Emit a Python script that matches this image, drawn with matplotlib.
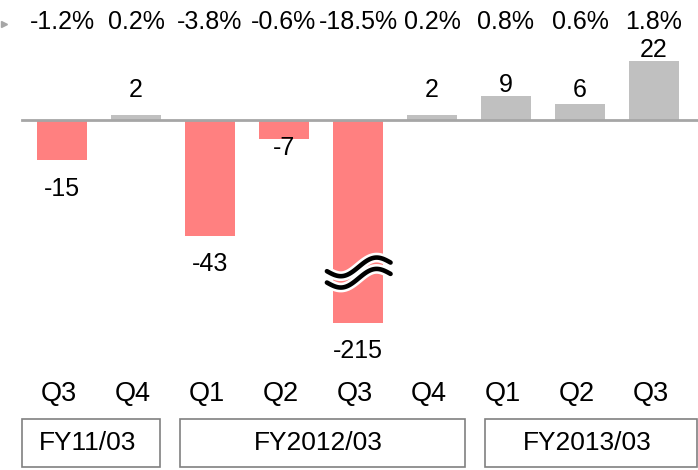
import numpy as np
import matplotlib.pyplot as plt
import matplotlib.patheffects as pe
from matplotlib.patches import Rectangle

plt.rcParams['font.family'] = ['Liberation Sans', 'DejaVu Sans']

# datos
quarters = ['Q3', 'Q4', 'Q1', 'Q2', 'Q3', 'Q4', 'Q1', 'Q2', 'Q3']
values = [-15, 2, -43, -7, -215, 2, 9, 6, 22]
pct = ['-1.2%', '0.2%', '-3.8%', '-0.6%', '-18.5%', '0.2%', '0.8%', '0.6%', '1.8%']
fiscal_years = ['FY11/03', 'FY2012/03', 'FY2013/03']
fy_spans = [(-0.54, 1.32), (1.59, 5.45), (5.72, 8.58)]

# eje roto: las barras mas bajas se cortan aqui
break_floor = -75
FS = 18

fig = plt.figure(figsize=(6.98, 4.70), dpi=100)
ax = fig.add_axes([0, 0, 1, 1])
ax.set_xlim(-0.838, 8.595)
ax.set_ylim(-129.6, 44.4)
ax.axis('off')

x = np.arange(len(values))
shown = [max(v, break_floor) for v in values]
colors = ['#FF8080' if v < 0 else '#C0C0C0' for v in values]
ax.bar(x, shown, width=0.68, color=colors, zorder=2)

# linea base
ax.plot([-0.54, 8.6], [0, 0], color='#A6A6A6', lw=2, zorder=3)
ax.plot([-0.79], [35.5], marker='>', color='#A6A6A6', ms=5, clip_on=False)

# etiquetas de valor (la de -7 va pegada a la barra como en el original)
for xi, v, s in zip(x, values, shown):
    if v >= 0:
        ax.text(xi, max(s + 3.9, 11.1), str(v), ha='center', va='center', fontsize=FS)
    else:
        y = s - 10.4 if v < -10 else -10.4
        ax.text(xi, y, str(v), ha='center', va='center', fontsize=FS)

for xi, p in zip(x, pct):
    ax.text(xi, 36.3, p, ha='center', va='center', fontsize=FS)

for xi, q in zip(x, quarters):
    ax.text(xi - 0.04, -101.5, q, ha='center', va='center', fontsize=19.5)

for name, (a, b) in zip(fiscal_years, fy_spans):
    ax.add_patch(Rectangle((a, -128.5), b - a, 17.6, fill=False,
                           edgecolor='#808080', lw=1.2, clip_on=False))
    ax.text((a + b) / 2 - 0.05, -119.5, name, ha='center', va='center', fontsize=19)

# simbolo de corte
i_break = values.index(min(values))
t = np.linspace(0, 1, 60)
xs = i_break - 0.42 + 0.86 * t
for off in (0, -4.2):
    ys = -56 + off + 3.2 * t - 2.6 * np.sin(2 * np.pi * t)
    ax.plot(xs, ys, color='black', lw=3.3, solid_capstyle='round', zorder=5,
            path_effects=[pe.Stroke(linewidth=7, foreground='white'), pe.Normal()])

fig.savefig('out.png', dpi=100)
